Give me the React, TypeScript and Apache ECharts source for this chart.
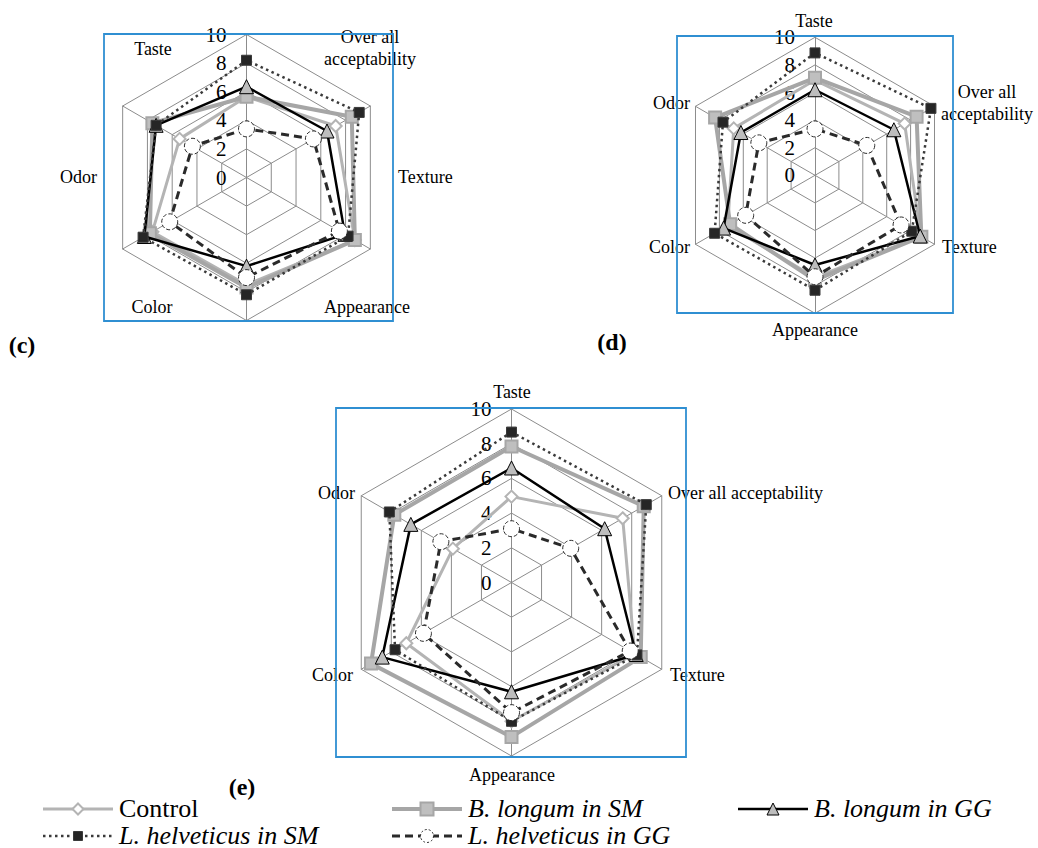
import React, { useEffect, useRef } from "react";
import * as echarts from "echarts";

const AXES = ["Taste", "Odor", "Color", "Appearance", "Texture", "Over all acceptability"];
const SERIES_NAMES = ["Control", "B. longum in SM", "B. longum in GG", "L. helveticus in SM", "L. helveticus in GG"];
const TICKS = [0, 2, 4, 6, 8, 10];

// values in axis order: Taste, Odor, Color, Appearance, Texture, Over all acceptability
const C_CONTROL = [5.65, 5.4, 7.6, 7.5, 8.75, 7.2];
const C_BLSM = [5.65, 7.6, 7.8, 7.7, 8.75, 8.5];
const C_BLGG = [6.35, 7.3, 8.25, 6.2, 7.95, 6.5];
const C_LHSM = [8.2, 7.3, 8.35, 8.2, 8.2, 9.1];
const C_LHGG = [3.4, 4.37, 6.2, 7.0, 7.5, 5.4];

const D_CONTROL = [6.9, 6.8, 7.3, 7.4, 8.85, 7.5];
const D_BLSM = [7.06, 8.36, 7.1, 7.6, 8.9, 8.5];
const D_BLGG = [6.2, 6.2, 7.65, 6.5, 8.8, 6.6];
const D_LHSM = [8.87, 7.7, 8.4, 8.33, 8.1, 9.7];
const D_LHGG = [3.36, 4.7, 5.8, 7.35, 7.2, 4.33];

const E_CONTROL = [4.95, 3.9, 7.0, 8.0, 8.2, 7.4];
const E_BLSM = [7.84, 7.8, 9.35, 8.9, 8.6, 8.8];
const E_BLGG = [6.6, 6.7, 8.6, 6.3, 8.3, 6.2];
const E_LHSM = [8.67, 8.13, 7.75, 8.0, 8.35, 8.97];
const E_LHGG = [3.1, 4.7, 5.86, 7.5, 7.9, 3.94];

const PANEL_LABELS = ["(c)", "(d)", "(e)"];

const FONT = "Liberation Serif";

const CHART_DATA = [
  [C_CONTROL, C_BLSM, C_BLGG, C_LHSM, C_LHGG],
  [D_CONTROL, D_BLSM, D_BLGG, D_LHSM, D_LHGG],
  [E_CONTROL, E_BLSM, E_BLGG, E_LHSM, E_LHGG],
];

// layout of the three radars
const LAYOUT = [
  { center: [246.5, 177.5], radius: 143, box: [104, 34, 289, 287], label: [22, 345] },
  { center: [815, 175.3], radius: 138, box: [677, 36, 276, 277], label: [612, 342] },
  { center: [511.5, 582.5], radius: 173.5, box: [336, 408, 350, 349], label: [242, 787] },
];

// axis-name text placement per chart (AXES index, x, y, align)
const NAME_POS = [
  [[0, 153, 49, "center"], [5, 370, 48, "center"], [4, 398, 177, "left"], [3, 367, 307, "center"], [2, 152, 307, "center"], [1, 97, 177, "right"]],
  [[0, 814, 21, "center"], [5, 987, 102.5, "center"], [4, 942, 247, "left"], [3, 815, 330, "center"], [2, 690, 247, "right"], [1, 690, 103, "right"]],
  [[0, 512, 392, "center"], [5, 668, 493, "left"], [4, 670, 675, "left"], [3, 512, 775, "center"], [2, 353, 675, "right"], [1, 355, 493, "right"]],
];

const STYLES = [
  { line: "#b4b4b4", width: 3, type: "solid", symbol: "diamond", size: 12, fill: "#ffffff", border: "#b4b4b4", bw: 2, btype: "solid" },
  { line: "#a6a6a6", width: 4, type: "solid", symbol: "rect", size: 12, fill: "#bfbfbf", border: "#a6a6a6", bw: 2, btype: "solid" },
  { line: "#000000", width: 2.5, type: "solid", symbol: "triangle", size: 14, fill: "#bdbdbd", border: "#000000", bw: 1, btype: "solid" },
  { line: "#3a3a3a", width: 2.5, type: [2.5, 3.5], symbol: "rect", size: 10, fill: "#262626", border: "#3a3a3a", bw: 1, btype: "solid" },
  { line: "#2a2a2a", width: 3, type: [8, 5], symbol: "circle", size: 16, fill: "#ffffff", border: "#2a2a2a", bw: 1, btype: "dashed" },
];

const LEGEND_POS = [
  [43, 809],
  [392, 809],
  [738, 809],
  [43, 836],
  [392, 836],
];

function legendSymbol(kind: string, cx: number, cy: number, s: number, st: any) {
  const style: any = { fill: st.fill, stroke: st.border, lineWidth: st.bw };
  if (st.btype === "dashed") style.lineDash = [2, 2];
  if (kind === "diamond")
    return { type: "polygon", shape: { points: [[cx, cy - s / 2], [cx + s / 2, cy], [cx, cy + s / 2], [cx - s / 2, cy]] }, style };
  if (kind === "rect") return { type: "rect", shape: { x: cx - s / 2, y: cy - s / 2, width: s, height: s }, style };
  if (kind === "triangle")
    return { type: "polygon", shape: { points: [[cx, cy - s / 2], [cx + s / 2, cy + s / 2], [cx - s / 2, cy + s / 2]] }, style };
  return { type: "circle", shape: { cx, cy, r: s / 2 }, style };
}

export default function App() {
  const ref = useRef<HTMLDivElement>(null);
  useEffect(() => {
    if (!ref.current) return;
    const chart = echarts.init(ref.current, null, { renderer: "svg" });

    const radar = LAYOUT.map((L) => ({
      center: L.center,
      radius: L.radius,
      startAngle: 90,
      shape: "polygon",
      splitNumber: TICKS.length - 1,
      axisName: { show: false },
      splitLine: { lineStyle: { color: "#8c8c8c", width: 1 } },
      splitArea: { show: false },
      axisLine: { lineStyle: { color: "#8c8c8c", width: 1 } },
      axisTick: { show: false },
      axisLabel: { show: false },
      indicator: AXES.map((n, i) => {
        const ind: any = { name: n, min: TICKS[0], max: TICKS[TICKS.length - 1] };
        if (i === 0) {
          ind.axisLabel = { show: true, color: "#000", fontSize: 21, fontFamily: FONT, margin: 20 };
        }
        return ind;
      }),
    }));

    const series: any[] = [];
    CHART_DATA.forEach((arrs, ri) => {
      arrs.forEach((vals, si) => {
        const st = STYLES[si];
        series.push({
          type: "radar",
          name: SERIES_NAMES[si],
          radarIndex: ri,
          z: 2 + si,
          symbol: st.symbol,
          symbolSize: st.size,
          lineStyle: { color: st.line, width: st.width, type: st.type },
          itemStyle: { color: st.fill, borderColor: st.border, borderWidth: st.bw, borderType: st.btype },
          data: [{ name: SERIES_NAMES[si], value: vals }],
        });
      });
    });

    const graphic: any[] = [];
    LAYOUT.forEach((L, i) => {
      graphic.push({
        type: "rect",
        shape: { x: L.box[0], y: L.box[1], width: L.box[2], height: L.box[3] },
        style: { fill: "none", stroke: "#2f8fd2", lineWidth: 1.8 },
        z: 1,
      });
      graphic.push({
        type: "text",
        x: L.label[0],
        y: L.label[1],
        style: {
          text: PANEL_LABELS[i],
          fill: "#000",
          fontFamily: FONT,
          fontSize: 24,
          fontWeight: "bold",
          align: "center",
          verticalAlign: "middle",
        },
      });
    });
    NAME_POS.forEach((list) => {
      list.forEach(([idx, x, y, align]: any) => {
        let text = AXES[idx];
        if (idx === 5 && align === "center") text = "Over all\nacceptability";
        graphic.push({
          type: "text",
          x,
          y,
          style: { text, fill: "#000", fontFamily: FONT, fontSize: 18, align, verticalAlign: "middle", lineHeight: 22 },
        });
      });
    });
    SERIES_NAMES.forEach((n, i) => {
      const st = STYLES[i];
      const [x, y] = LEGEND_POS[i];
      graphic.push({
        type: "line",
        shape: { x1: x, y1: y, x2: x + 70, y2: y },
        style: { stroke: st.line, lineWidth: st.width, lineDash: Array.isArray(st.type) ? st.type : null },
      });
      const ls = [11, 13, 12, 9, 13][i];
      graphic.push(legendSymbol(st.symbol, x + 35, y, ls, st));
      graphic.push({
        type: "text",
        x: x + 76,
        y: y - 1,
        style: {
          text: n,
          fill: "#000",
          fontFamily: FONT,
          fontSize: 26,
          fontStyle: i === 0 ? "normal" : "italic",
          align: "left",
          verticalAlign: "middle",
        },
      });
    });

    chart.setOption({
      animation: false,
      backgroundColor: "#ffffff",
      radar,
      series,
      graphic,
    });
    return () => chart.dispose();
  }, []);
  return <div ref={ref} style={{ position: "absolute", left: 0, top: 0, width: 1038, height: 848 }} />;
}
